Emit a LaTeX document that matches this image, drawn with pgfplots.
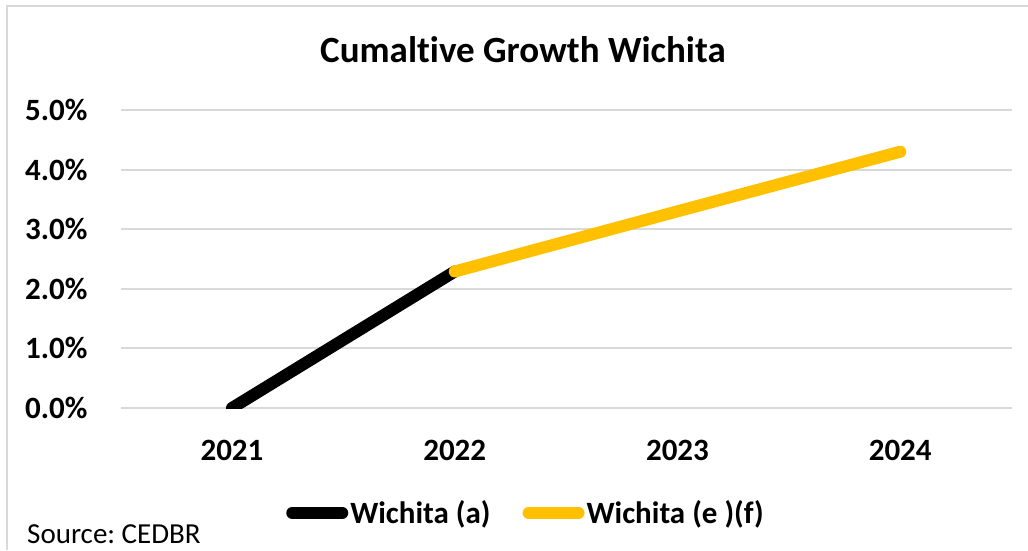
\documentclass[border=0pt]{standalone}
\usepackage{pgfplots}
\pgfplotsset{compat=1.18}
\usepackage{fontspec}
\setmainfont[Ligatures={NoCommon}]{Carlito}
\frenchspacing
\definecolor{wyellow}{HTML}{FFC000}
\definecolor{gridgray}{HTML}{D9D9D9}
\begin{document}
\begin{tikzpicture}[x=1pt,y=1pt]
\useasboundingbox (0,0) rectangle (1028,550);
\draw[gridgray, line width=2.5pt] (7,0) -- (7,544) -- (1028,544);
\node[font=\bfseries\fontsize{37}{44}\selectfont, anchor=center] at (523,500) {Cumaltive Growth Wichita};
\node[font=\fontsize{29}{34}\selectfont, anchor=base west, inner sep=0pt] at (27,7) {Source: CEDBR};
\begin{axis}[
  at={(120.6pt,142pt)}, anchor=south west,
  width=891pt, height=298pt, scale only axis,
  xmin=-0.5, xmax=3.5, ymin=0, ymax=5,
  xtick={0,1,2,3}, xticklabels={2021,2022,2023,2024},
  ytick={0,1,2,3,4,5},
  yticklabel={\pgfmathprintnumber[fixed,fixed zerofill,precision=1]{\tick}\%},
  /pgf/number format/assume math mode=true,
  major tick length=0pt,
  axis line style={draw=none},
  ymajorgrids, grid style={gridgray, line width=2pt},
  tick label style={font=\bfseries\fontsize{31}{36}\selectfont},
  yticklabel style={anchor=east, inner sep=0pt, xshift=-33pt},
  xticklabel style={anchor=base, inner sep=0pt, yshift=-52pt},
  legend style={at={(0.455,-0.352)}, anchor=center, draw=none, fill=none,
    font=\bfseries\fontsize{31}{36}\selectfont, legend columns=2,
    /tikz/every even column/.append style={column sep=30pt},
    legend cell align=left},
  legend image code/.code={\draw[#1, line width=12pt, line cap=round] (6pt,0pt) -- (56pt,0pt);},
]
\addplot[black, line width=12pt, line cap=round] coordinates {(0,0) (1,2.29)};
\addlegendentry{Wichita (a)}
\addplot[wyellow, line width=12pt, line cap=round] coordinates {(1,2.29) (2,3.30) (3,4.30)};
\addlegendentry{Wichita (e )(f)}
\end{axis}
\end{tikzpicture}
\end{document}
